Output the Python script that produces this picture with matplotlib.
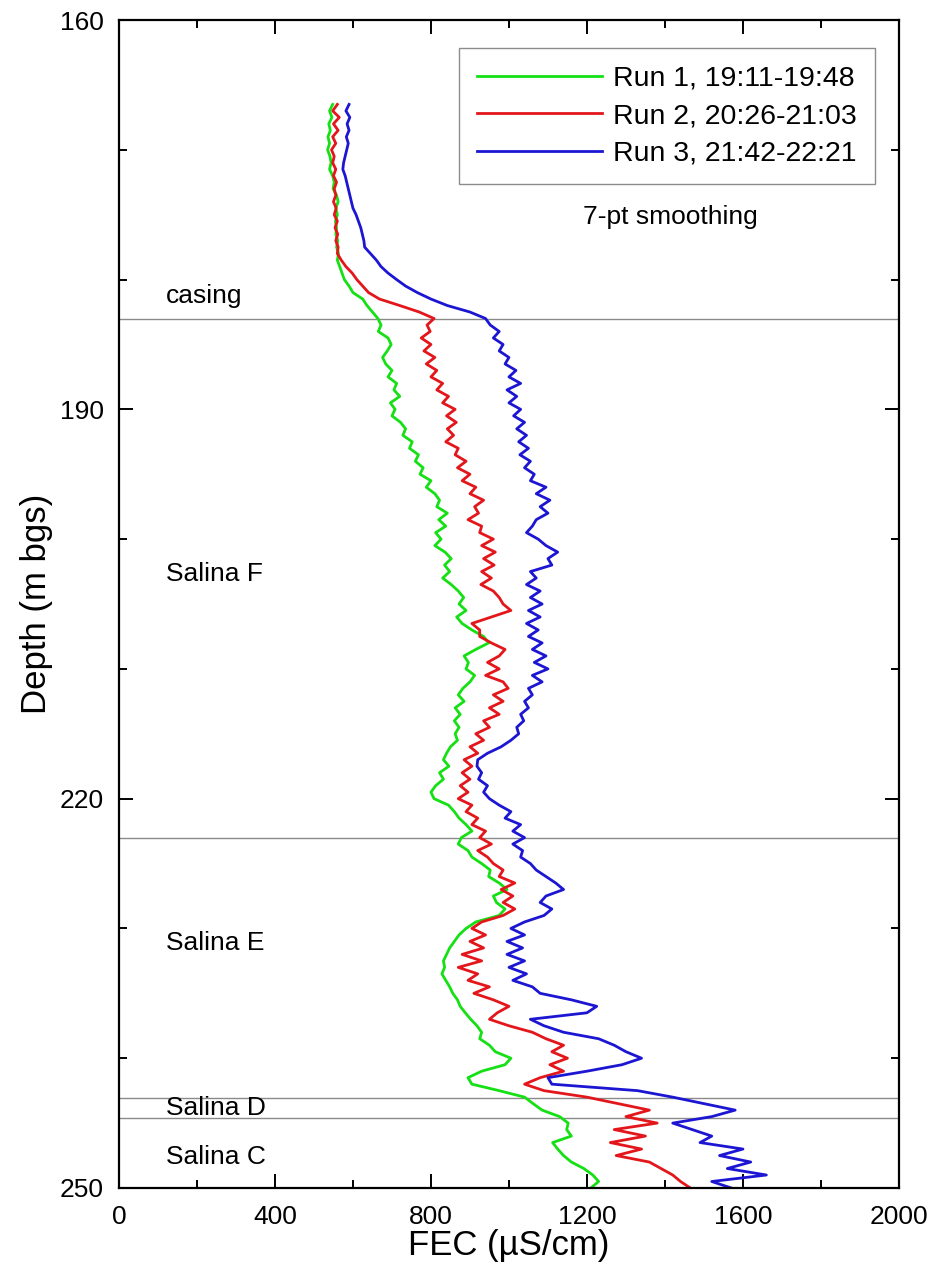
"""
FEC logs from three repeat runs, 7-pt smoothed, plotted against depth.
"""
import numpy as np
import matplotlib
matplotlib.use('Agg')
import matplotlib.pyplot as plt
from matplotlib.ticker import MultipleLocator

plt.rcParams['font.family'] = ['Liberation Sans', 'DejaVu Sans']

# depth grid of the smoothed logs (m bgs), 0.5 m spacing
depth = np.arange(166.5, 250.01, 0.5)

# FEC (uS/cm), one row per 5 m starting at 166.5 m
run1 = [548, 540, 546, 538, 542, 536, 540, 535, 541, 544,
        540, 548, 552, 549, 558, 562, 556, 560, 555, 558,
        556, 561, 558, 563, 560, 566, 572, 578, 590, 600,
        625, 636, 650, 664, 672, 665, 690, 698, 688, 676,
        684, 700, 690, 712, 705, 720, 696, 708, 700, 722,
        735, 728, 752, 745, 768, 760, 780, 772, 800, 788,
        810, 822, 815, 842, 820, 838, 812, 826, 810, 836,
        852, 835, 848, 830, 852, 870, 884, 872, 890, 866,
        880, 905, 935, 948, 915, 885, 896, 890, 912, 900,
        882, 870, 885, 862, 875, 860, 872, 862, 868, 850,
        840, 832, 846, 822, 832, 812, 800, 808, 845, 860,
        872, 890, 905, 878, 870, 895, 905, 930, 952, 948,
        975, 995, 960, 968, 990, 975, 915, 890, 872, 860,
        848, 840, 832, 835, 828, 838, 848, 856, 868, 875,
        888, 902, 918, 930, 925, 950, 965, 1005, 990, 930,
        895, 905, 975, 1040, 1062, 1085, 1130, 1152, 1148, 1160,
        1112, 1125, 1140, 1160, 1192, 1215, 1230, 1210]

run2 = [560, 548, 565, 550, 562, 548, 556, 545, 552, 548,
        556, 550, 558, 552, 556, 550, 557, 552, 560, 554,
        561, 556, 562, 560, 570, 582, 598, 610, 625, 640,
        668, 720, 770, 808, 790, 798, 775, 800, 782, 810,
        788, 815, 800, 830, 815, 845, 830, 862, 840, 865,
        842, 858, 838, 870, 862, 890, 868, 900, 880, 915,
        900, 935, 912, 922, 895, 930, 925, 960, 930, 965,
        935, 962, 930, 955, 928, 960, 975, 985, 1005, 955,
        905, 925, 925, 955, 990, 975, 945, 975, 940, 985,
        998, 960, 985, 950, 975, 935, 950, 915, 935, 900,
        920, 885, 905, 880, 900, 875, 895, 870, 905, 890,
        920, 905, 940, 925, 955, 920, 945, 960, 985, 975,
        1015, 980, 1010, 985, 1015, 985, 930, 905, 940, 900,
        935, 880, 930, 870, 920, 895, 950, 910, 960, 1000,
        970, 950, 1000, 1060, 1095, 1140, 1110, 1150, 1105, 1140,
        1080, 1040, 1090, 1200, 1280, 1360, 1300, 1380, 1270, 1350,
        1260, 1340, 1275, 1360, 1390, 1420, 1440, 1465]

run3 = [590, 582, 592, 585, 590, 583, 588, 584, 580, 576,
        574, 580, 584, 588, 592, 596, 600, 608, 614, 620,
        624, 628, 630, 645, 660, 672, 690, 712, 735, 765,
        800, 842, 900, 940, 952, 975, 960, 985, 975, 1000,
        990, 1018, 1000, 1030, 995, 1020, 1000, 1030, 1012, 1040,
        1020, 1045, 1025, 1050, 1028, 1055, 1040, 1065, 1055, 1095,
        1070, 1105, 1080, 1100, 1070, 1060, 1045, 1075, 1095, 1125,
        1100, 1110, 1055, 1070, 1045, 1080, 1055, 1085, 1050, 1080,
        1045, 1075, 1050, 1085, 1060, 1095, 1065, 1100, 1060, 1085,
        1050, 1060, 1040, 1050, 1030, 1038, 1020, 1025, 1005, 980,
        945, 920, 918, 930, 922, 945, 935, 950, 975, 1005,
        990, 1030, 1010, 1040, 1010, 1035, 1030, 1055, 1070, 1095,
        1120, 1140, 1095, 1080, 1110, 1090, 1040, 1005, 1040, 995,
        1035, 995, 1040, 1000, 1045, 1010, 1060, 1080, 1160, 1225,
        1200, 1055, 1090, 1140, 1230, 1270, 1300, 1340, 1290, 1200,
        1100, 1110, 1330, 1420, 1500, 1580, 1520, 1420, 1470, 1520,
        1490, 1600, 1540, 1620, 1560, 1660, 1520, 1570]

run_labels = ['Run 1, 19:11-19:48', 'Run 2, 20:26-21:03', 'Run 3, 21:42-22:21']
run_colors = ['#14e014', '#e3161b', '#1c16d2']

# unit boundaries (m bgs) and their labels
bounds = [183.0, 223.0, 243.1, 244.6]
unit_names = ['casing', 'Salina F', 'Salina E', 'Salina D', 'Salina C']
unit_depths = [181.3, 202.7, 231.1, 243.8, 247.6]

depth_ticks = [160, 190, 220, 250]

fig = plt.figure(figsize=(9.33, 12.68), dpi=100)
ax = fig.add_axes([0.1275, 0.0631, 0.836, 0.9211])

for vals, lab, col in zip([run1, run2, run3], run_labels, run_colors):
    ax.plot(vals, depth, color=col, lw=2.0, label=lab)

for d in bounds:
    ax.axhline(d, color='#8a8a8a', lw=1.0, zorder=0)

for name, d in zip(unit_names, unit_depths):
    ax.text(120, d, name, fontsize=19, va='center', ha='left')

ax.text(1413, 175.2, '7-pt smoothing', fontsize=19, va='center', ha='center')

ax.set_xlim(0, 2000)
ax.set_ylim(250, 160)
ax.xaxis.set_major_locator(MultipleLocator(400))
ax.xaxis.set_minor_locator(MultipleLocator(200))
ax.set_yticks(depth_ticks)
ax.yaxis.set_minor_locator(MultipleLocator(10))
ax.tick_params(which='both', direction='in', top=True, right=True,
               width=1.4, labelsize=19)
ax.tick_params(which='major', length=10)
ax.tick_params(which='minor', length=6)
ax.tick_params(axis='x', which='major', pad=12)
ax.tick_params(axis='y', which='major', pad=11)
for sp in ax.spines.values():
    sp.set_linewidth(1.6)

ax.set_xlabel('FEC (\u00b5S/cm)', fontsize=25, labelpad=0)
ax.set_ylabel('Depth (m bgs)', fontsize=25, labelpad=5)

leg = ax.legend(loc='upper right', bbox_to_anchor=(0.969, 0.976),
                borderaxespad=0, fancybox=False, fontsize=20.5,
                handlelength=4.4, labelspacing=0.4, handletextpad=0.4,
                borderpad=0.62)
leg.get_frame().set_edgecolor('#707070')
leg.get_frame().set_linewidth(1.0)
for ln in leg.get_lines():
    ln.set_linewidth(2.0)

plt.savefig('out.png', dpi=100)
